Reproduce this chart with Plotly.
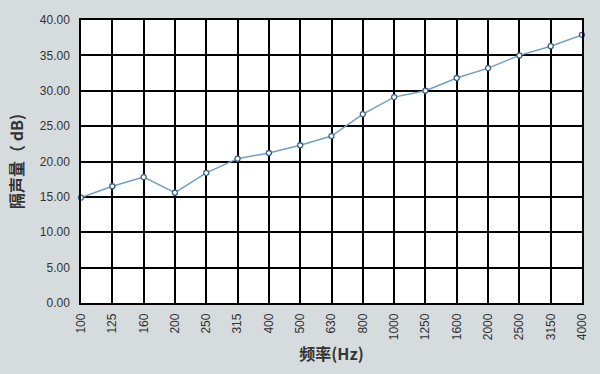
import plotly.graph_objects as go

freqs = ["100", "125", "160", "200", "250", "315", "400", "500", "630",
         "800", "1000", "1250", "1600", "2000", "2500", "3150", "4000"]
values = [14.9, 16.5, 17.8, 15.6, 18.4, 20.4, 21.2, 22.3, 23.6,
          26.7, 29.1, 30.0, 31.8, 33.2, 35.0, 36.3, 37.9]
yticks = [0, 5, 10, 15, 20, 25, 30, 35, 40]

fig = go.Figure()
fig.add_trace(go.Scatter(
    x=freqs, y=values, mode="lines+markers",
    line=dict(color="#6f9fc2", width=1.5),
    marker=dict(symbol="circle", size=5, color="white",
                line=dict(color="#3a5f88", width=1.3)),
    cliponaxis=False, showlegend=False,
))

fig.update_layout(
    width=600, height=374,
    margin=dict(l=81, r=18, t=20, b=71),
    paper_bgcolor="#d6dbde", plot_bgcolor="white",
    font=dict(family="Liberation Sans, Arial, sans-serif", size=12, color="#333333"),
)
fig.update_xaxes(
    type="category", range=[0, len(freqs) - 1],
    tickangle=-90, showgrid=True, gridcolor="black", gridwidth=1.5,
    showline=True, linecolor="black", linewidth=1.5, mirror=True,
    ticks="", ticklabelstandoff=4,
    title=dict(text="频率(Hz)", standoff=10,
               font=dict(family="Noto Sans CJK SC, sans-serif", size=16, color="#333333", weight="bold")),
)
fig.update_yaxes(
    range=[0, 40], tickvals=yticks, ticktext=[f"{v:.2f}" for v in yticks],
    showgrid=True, gridcolor="black", gridwidth=1.5,
    showline=True, linecolor="black", linewidth=1.5, mirror=True,
    ticks="", ticklabelstandoff=7, zeroline=False,
    title=dict(text="隔声量（ dB)", standoff=12,
               font=dict(family="Noto Sans CJK SC, sans-serif", size=16, color="#333333", weight="bold")),
)

fig.write_html("out.html")
